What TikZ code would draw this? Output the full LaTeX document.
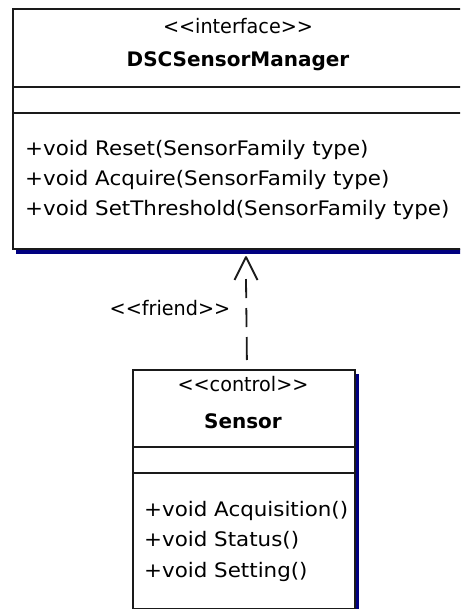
\documentclass[tikz,border=0pt]{standalone}
\usepackage{fontspec}
\setmainfont{DejaVu Sans}[FakeStretch=1.07]
\newfontfamily\stereofont{DejaVu Sans}[FakeStretch=0.96]
\newfontfamily\namefont{DejaVu Sans}[FakeStretch=1.0]
\definecolor{navy}{HTML}{000080}
\definecolor{edge}{HTML}{1A1A1A}
\begin{document}
\begin{tikzpicture}[x=1pt,y=-1pt,
  classbox/.style={draw=edge, line width=1.8pt, fill=white, rectangle,
    inner sep=0pt, anchor=north west},
  sepline/.style={draw=edge, line width=1.8pt},
  op/.style={inner sep=0pt, anchor=base west, font=\fontsize{20}{24}\selectfont},
  stereo/.style={inner sep=0pt, anchor=base, font=\fontsize{20}{24}\selectfont\stereofont},
  cname/.style={inner sep=0pt, anchor=base, font=\fontsize{20}{24}\selectfont\namefont\bfseries},
  dep/.style={draw=edge, line width=1.8pt},
]
\useasboundingbox (0,0) rectangle (460,609);
\clip (0,0) rectangle (460,609);
\fill[white] (0,0) rectangle (460,609);

% drop shadows
\fill[navy] (16,249) rectangle (470,254);
\fill[navy] (355,374) rectangle (359,620);

% interface DSCSensorManager
\node[classbox, minimum width=452pt, minimum height=240pt] (mgr) at (12,8) {};
\draw[sepline] ([yshift=-79pt]mgr.north west) -- ([yshift=-79pt]mgr.north east);
\draw[sepline] ([yshift=-105pt]mgr.north west) -- ([yshift=-105pt]mgr.north east);
\node[stereo] (mgrst) at (238,34) {<<interface>>};
\node[cname] (mgrname) at (238,67) {DSCSensorManager};
\node[op] (mgrop1) at (25,155.5) {+void Reset(SensorFamily type)};
\node[op] (mgrop2) at (25,185.5) {+void Acquire(SensorFamily type)};
\node[op] (mgrop3) at (25,215.5) {+void SetThreshold(SensorFamily type)};

% control Sensor
\node[classbox, minimum width=222pt, minimum height=239pt] (sen) at (132,369) {};
\draw[sepline] ([yshift=-78pt]sen.north west) -- ([yshift=-78pt]sen.north east);
\draw[sepline] ([yshift=-104pt]sen.north west) -- ([yshift=-104pt]sen.north east);
\node[stereo] (senst) at (243,391) {<<control>>};
\node[cname] (senname) at (243,428) {Sensor};
\node[op] (senop1) at (144,516) {+void Acquisition()};
\node[op] (senop2) at (144,546.5) {+void Status()};
\node[op] (senop3) at (144,577) {+void Setting()};

% friend dependency
\coordinate (tip) at (246,257);
\coordinate (wingl) at (234.5,280);
\coordinate (wingr) at (257.5,280);
\draw[dep, dash pattern=on 23pt off 10pt on 19pt off 10pt on 19pt off 30pt]
  ([xshift=3pt,yshift=9pt]sen.north) -- ([yshift=-22pt]tip);
\draw[dep, line join=round] (wingl) -- (tip) -- (wingr);
\node[stereo] (friendlbl) at (170,315) {<<friend>>};
\end{tikzpicture}
\end{document}
